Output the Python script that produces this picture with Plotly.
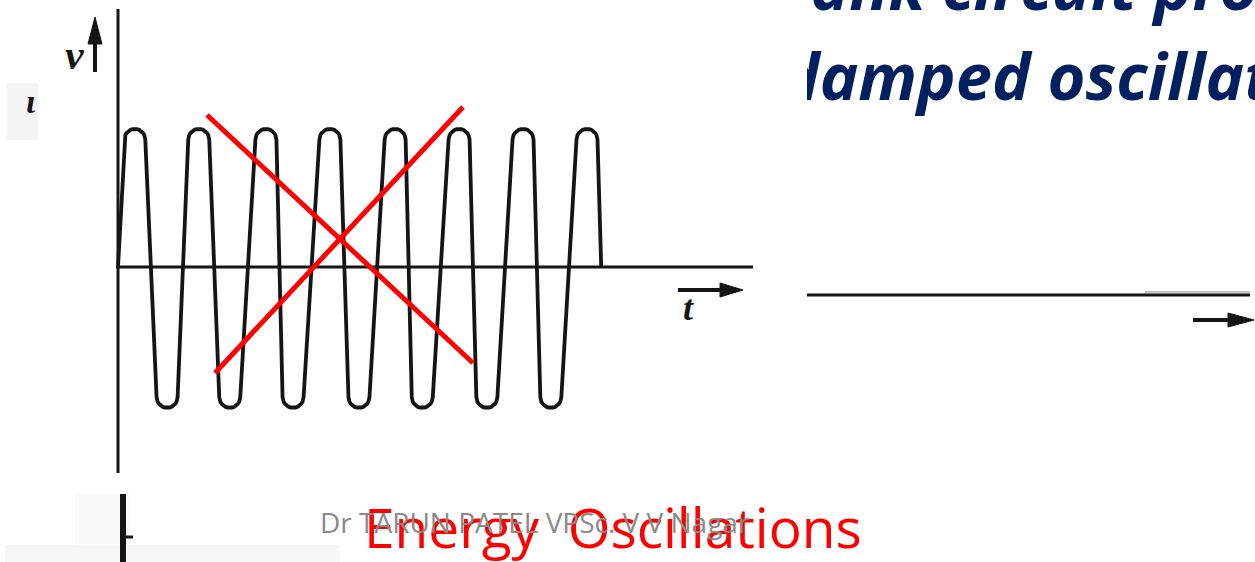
import numpy as np
import plotly.graph_objects as go

W, H = 1255, 562

# Oscillation trace: times of the tips (in periods) and their voltages (in units of peak)
peak_t = [0.26, 1.25, 2.29, 3.28, 4.29, 5.28, 6.27, 7.26]
peak_v = [1.0, 1.0, 1.0, 1.0, 1.0, 1.0, 1.0, 1.0]
trough_t = [0.76, 1.73, 2.71, 3.73, 4.71, 5.71, 6.70]
trough_v = [-1.02, -1.02, -1.02, -1.02, -1.02, -1.02, -1.02]
start_t, end_t = 0.0, 7.48

title_lines = ["Tank circuit produces", "damped oscillations"]
caption = "Energy\u00a0 Oscillations"
credit = "Dr TARUN PATEL VPSc. V V Nagar"

# page geometry of the drawing (origin and scale of the t / v axes)
T0_PX, V0_PX = 118, 267
PX_T, PX_V = 64.6, 138.0
CAP_R = 10.5  # radius of the rounded tips, px

INK = "#151515"
RED = "#ff0000"
NAVY = "#002060"


def P(x, y):
    """page pixel -> paper coordinates"""
    return x / W, 1 - y / H


def line(x0, y0, x1, y1, color=INK, width=3):
    a, b = P(x0, y0)
    c, d = P(x1, y1)
    return dict(type="line", xref="paper", yref="paper", x0=a, y0=b, x1=c, y1=d,
                line=dict(color=color, width=width), layer="above")


def poly(pts, color=INK):
    s = "M " + " L ".join(f"{P(x, y)[0]:.5f},{P(x, y)[1]:.5f}" for x, y in pts) + " Z"
    return dict(type="path", xref="paper", yref="paper", path=s,
                fillcolor=color, line=dict(color=color, width=1), layer="above")


def rect(x0, y0, x1, y1, color):
    a, b = P(x0, y1)
    c, d = P(x1, y0)
    return dict(type="rect", xref="paper", yref="paper", x0=a, y0=b, x1=c, y1=d,
                fillcolor=color, line=dict(width=0), layer="below")


# wave: straight flanks joined by rounded tips
extrema = sorted(list(zip(peak_t, peak_v)) + list(zip(trough_t, trough_v)))
rt, rv = CAP_R / PX_T, CAP_R / PX_V
ts, vs = [start_t], [0.0]
ang = np.linspace(np.pi, 0, 15)
for t, v in extrema:
    s = 1 if v > 0 else -1
    vc = v - s * rv
    ts += list(t + rt * np.cos(ang))
    vs += list(vc + s * rv * np.sin(ang))
ts.append(end_t)
vs.append(0.0)

fig = go.Figure()
fig.add_trace(go.Scatter(x=ts, y=vs, mode="lines", line=dict(color=INK, width=3.8),
                         hoverinfo="skip", showlegend=False))

# slide heading, clipped by its box on the left
fig.add_trace(go.Scatter(
    x=[776, 781], y=[-6, 84], mode="text", text=title_lines,
    textposition="middle right", cliponaxis=True,
    textfont=dict(family="Open Sans", size=65, color=NAVY, weight="bold", style="italic"),
    xaxis="x2", yaxis="y2", hoverinfo="skip", showlegend=False))

shapes = [
    rect(7, 83, 38, 140, "#f4f4f4"),
    rect(75, 494, 130, 545, "#fafafa"),
    rect(5, 545, 340, 562, "#f7f7f7"),
    # axes
    line(118, 9, 118, 473, width=3),
    line(116, 267, 753, 267, width=3),
    # v arrow
    line(95, 72, 95, 40, width=4),
    poly([(95, 17), (88, 44), (102, 44)]),
    # t arrow
    line(678, 290, 724, 290, width=4),
    poly([(743, 290), (720, 283), (720, 297)]),
    # right-hand trace and its arrow
    line(1145, 292, 1250, 292, color="#c4c4c4", width=2),
    line(807, 295, 1250, 295, width=3),
    line(1193, 320, 1232, 320, width=4),
    poly([(1254, 320), (1228, 313), (1228, 327)]),
    # lower axis fragment
    line(123, 494, 123, 562, width=6),
    line(125, 537, 133, 537, width=3),
    # cross-out
    line(207, 115, 473, 363, color=RED, width=5),
    line(215, 373, 463, 107, color=RED, width=5),
]

serif = dict(family="Liberation Serif", color=INK, weight="bold", style="italic")
annotations = [
    dict(text="v", x=P(75, 0)[0], y=P(0, 55)[1], font=dict(size=42, **serif)),
    dict(text="t", x=P(688, 0)[0], y=P(0, 308)[1], font=dict(size=36, **serif)),
    dict(text="\u03b9", x=P(31, 0)[0], y=P(0, 102)[1], font=dict(size=34, **serif)),
    dict(text=caption, x=P(613, 0)[0], y=P(0, 526)[1],
         font=dict(family="Open Sans", size=55, color=RED)),
    dict(text=credit, x=P(535, 0)[0], y=P(0, 522)[1],
         font=dict(family="Open Sans", size=28, color="#8a8a8a")),
]
for a in annotations:
    a.update(xref="paper", yref="paper", xanchor="center", yanchor="middle", showarrow=False)

fig.update_layout(
    width=W, height=H, margin=dict(l=0, r=0, t=0, b=0),
    paper_bgcolor="white", plot_bgcolor="white",
    xaxis=dict(range=[(0 - T0_PX) / PX_T, (W - T0_PX) / PX_T], visible=False, domain=[0, 1]),
    yaxis=dict(range=[(V0_PX - H) / PX_V, V0_PX / PX_V], visible=False, domain=[0, 1]),
    xaxis2=dict(range=[807, W], domain=[807 / W, 1], visible=False, anchor="y2"),
    yaxis2=dict(range=[H, 0], domain=[0, 1], visible=False, anchor="x2"),
    shapes=shapes, annotations=annotations, showlegend=False,
)

fig.write_html("out.html", config={"displayModeBar": False})
